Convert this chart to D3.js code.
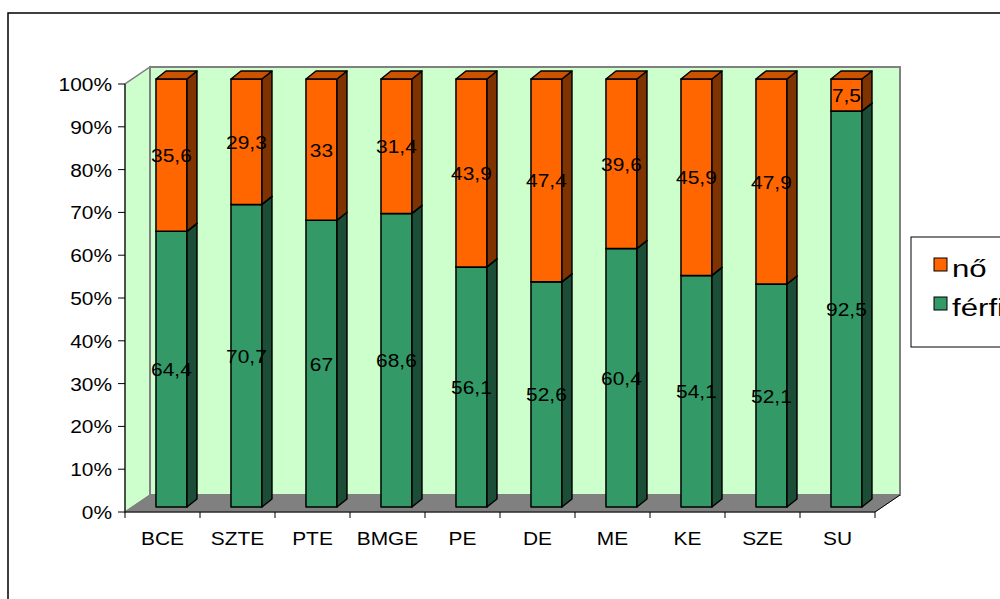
<!DOCTYPE html>
<html>
<head>
<meta charset="utf-8">
<script src="https://cdn.jsdelivr.net/npm/d3@7"></script>
<style>
  html, body { margin: 0; padding: 0; background: #fff; }
  svg { display: block; }
  text { font-family: "Liberation Sans", Arial, sans-serif; fill: #000; }
</style>
</head>
<body>
<svg id="chart" width="1000" height="599"></svg>
<script>
// ---- data ----
const categories = ["BCE", "SZTE", "PTE", "BMGE", "PE", "DE", "ME", "KE", "SZE", "SU"];
const ferfi = [64.4, 70.7, 67, 68.6, 56.1, 52.6, 60.4, 54.1, 52.1, 92.5];
const no = [35.6, 29.3, 33, 31.4, 43.9, 47.4, 39.6, 45.9, 47.9, 7.5];
const yTicks = [0, 10, 20, 30, 40, 50, 60, 70, 80, 90, 100];
const seriesNames = ["nő", "férfi"];

const svg = d3.select("#chart");
const SX = 1.1; // horizontal text stretch

// outer chart frame (extends past viewport)
svg.append("rect").attr("x", 8).attr("y", 13).attr("width", 1100).attr("height", 700)
  .attr("fill", "#fff").attr("stroke", "#000").attr("stroke-width", 1.5);

const x = d3.scaleBand().domain(categories).range([125, 875]).padding(0);
const y = d3.scaleLinear().domain([0, 100]).range([512, 84]);
const wallDx = 25, wallDy = -17;
const barDx = 10, barDy = -8;
const barShiftY = -5;

function txt(g, str, px, py, size, anchor, sx) {
  return g.append("text")
    .attr("transform", `translate(${px},${py}) scale(${sx || SX},1)`)
    .attr("text-anchor", anchor)
    .attr("font-size", size)
    .text(str);
}
const poly = pts => pts.map(p => p.join(",")).join(" ");

// walls
const x0 = x.range()[0], x1 = x.range()[1];
const yb = y(0), yt = y(100);
svg.append("polygon")
  .attr("points", poly([[x0, yb], [x0, yt], [x0 + wallDx, yt + wallDy], [x0 + wallDx, yb + wallDy]]))
  .attr("fill", "#CCFFCC").attr("stroke", "#808080").attr("stroke-width", 1.5);
svg.append("polygon")
  .attr("points", poly([[x0 + wallDx, yt + wallDy], [x1 + wallDx, yt + wallDy], [x1 + wallDx, yb + wallDy], [x0 + wallDx, yb + wallDy]]))
  .attr("fill", "#CCFFCC").attr("stroke", "#808080").attr("stroke-width", 2);
// floor
svg.append("polygon")
  .attr("points", poly([[x0, yb], [x1, yb], [x1 + wallDx, yb + wallDy], [x0 + wallDx, yb + wallDy]]))
  .attr("fill", "#808080").attr("stroke", "#808080").attr("stroke-width", 1);

// axes
const axisG = svg.append("g");
axisG.append("line").attr("x1", x0).attr("x2", x0).attr("y1", yb).attr("y2", yt).attr("stroke", "#000");
axisG.append("line").attr("x1", x0).attr("x2", x1).attr("y1", yb).attr("y2", yb).attr("stroke", "#000");
axisG.append("line").attr("x1", x1).attr("x2", x1 + wallDx).attr("y1", yb).attr("y2", yb + wallDy).attr("stroke", "#000");
yTicks.forEach(t => {
  axisG.append("line").attr("x1", x0 - 7).attr("x2", x0).attr("y1", y(t)).attr("y2", y(t)).attr("stroke", "#000");
  txt(axisG, t + "%", x0 - 13, y(t) + 7, 19, "end");
});
const bounds = categories.map(c => x(c)).concat([x1]);
bounds.forEach(b => {
  axisG.append("line").attr("x1", b).attr("x2", b).attr("y1", yb).attr("y2", yb + 6).attr("stroke", "#000");
});
categories.forEach(c => {
  txt(axisG, c, x(c) + x.bandwidth() / 2, 545, 19, "middle");
});

// bars
const bw = x.bandwidth();
const barOff = bw * 0.413;
const barW = bw * 0.413;
const barsG = svg.append("g");
function box(g, bx, yTop, yBot, cFront, cTop, cSide) {
  g.append("polygon").attr("points", poly([[bx, yBot], [bx, yTop], [bx + barW, yTop], [bx + barW, yBot]]))
    .attr("fill", cFront).attr("stroke", "#000").attr("stroke-width", 1.5).attr("stroke-linejoin", "round");
  g.append("polygon").attr("points", poly([[bx + barW, yBot], [bx + barW, yTop], [bx + barW + barDx, yTop + barDy], [bx + barW + barDx, yBot + barDy]]))
    .attr("fill", cSide).attr("stroke", "#000").attr("stroke-width", 1.5).attr("stroke-linejoin", "round");
  g.append("polygon").attr("points", poly([[bx, yTop], [bx + barDx, yTop + barDy], [bx + barW + barDx, yTop + barDy], [bx + barW, yTop]]))
    .attr("fill", cTop).attr("stroke", "#000").attr("stroke-width", 1.5).attr("stroke-linejoin", "round");
}
const fmt = v => String(v).replace(".", ",");
categories.forEach((c, i) => {
  const fx = x(c) + barOff;
  const g = barsG.append("g");
  const f = ferfi[i], n = no[i];
  box(g, fx, y(f) + barShiftY, y(0) + barShiftY, "#339966", "#267350", "#1C4D36");
  box(g, fx, y(f + n) + barShiftY, y(f) + barShiftY, "#FF6600", "#CC5200", "#7F3300");
});
// labels
const labG = svg.append("g");
categories.forEach((c, i) => {
  const fx = x(c) + barOff + barW / 2;
  const f = ferfi[i], n = no[i];
  txt(labG, fmt(f), fx, y(f / 2) + barShiftY + 7, 19, "middle");
  txt(labG, fmt(n), fx, y(f + n / 2) + barShiftY + 7, 19, "middle");
});

// legend
const lg = svg.append("g");
lg.append("rect").attr("x", 911).attr("y", 237).attr("width", 200).attr("height", 110)
  .attr("fill", "#fff").attr("stroke", "#000").attr("stroke-width", 1);
const legColors = ["#FF6600", "#339966"];
seriesNames.forEach((s, i) => {
  const ly = 258 + i * 39;
  lg.append("rect").attr("x", 934).attr("y", ly).attr("width", 13).attr("height", 13)
    .attr("fill", legColors[i]).attr("stroke", "#000").attr("stroke-width", 1);
  txt(lg, s, 952, ly + 19, 24, "start", 1.3);
});
</script>
</body>
</html>
